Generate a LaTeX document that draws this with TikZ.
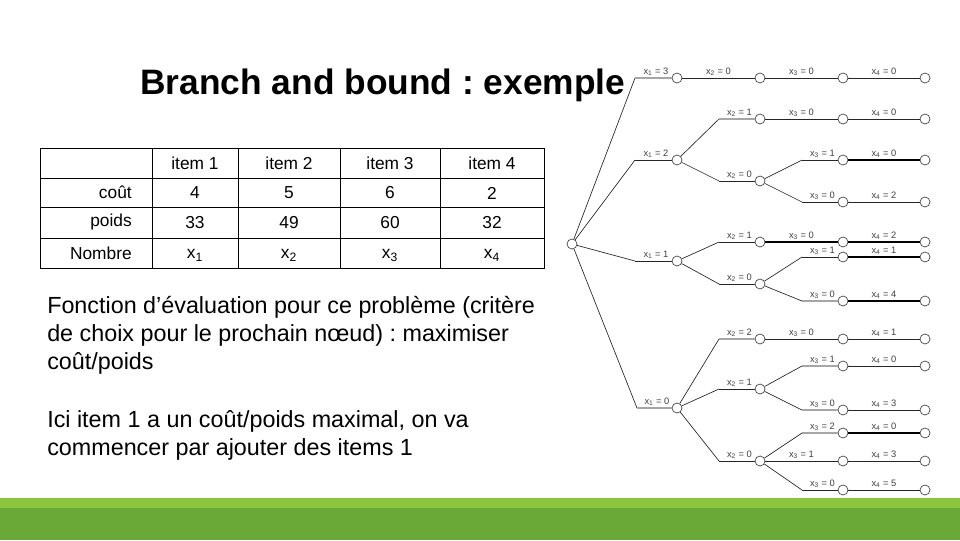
\documentclass[tikz,border=0pt]{standalone}
\usepackage{fontspec}
\setmainfont{Liberation Sans}
\frenchspacing
\usetikzlibrary{calc}
\newcommand\brE[7][]{%
  \node[tn] (#3) at (#5,#6) {};
  \coordinate (#3b) at (#4,#6);
  \draw[edge] (#2) -- (#3b);
  \draw[edge,#1] (#3b) -- (#3);
  \node[lbl] at ($(#3b)!0.5!(#3)$) {#7};}
\newcommand\stE[6][]{%
  \node[tn] (#3) at (#4,#5) {};
  \draw[edge,#1] (#2) -- (#3);
  \node[lbl] at ($(#2)!0.5!(#3)$) {#6};}
\begin{document}
\begin{tikzpicture}[x=0.75pt,y=-0.75pt,
  tn/.style={circle,draw=black!75,fill=white,inner sep=0pt,minimum size=7.5pt,line width=0.5pt},
  edge/.style={draw=black!85,line width=0.5pt},
  hv/.style={line width=1.3pt,draw=black},
  gr/.style={draw=black!35,line width=0.9pt},
  lbl/.style={font=\fontsize{7}{8}\selectfont,text=black!75,anchor=south,yshift=1.5pt,inner sep=0pt},
  tx/.style={font=\fontsize{13}{15}\selectfont,inner sep=0pt},
  para/.style={font=\fontsize{17.5}{21}\selectfont,anchor=north west,align=left,inner sep=0pt}]
\useasboundingbox (0,0) rectangle (960,540);
\fill[white] (0,0) rectangle (960,540);
% green bar
\fill[color={rgb,255:red,106;green,168;blue,56}] (0,508) rectangle (960,540);
\fill[color={rgb,255:red,140;green,198;blue,63}] (0,498) rectangle (960,508);
% title
\node[font=\bfseries\fontsize{26.5}{30}\selectfont,anchor=west,inner sep=0pt] (title) at (140,85) {Branch and bound : exemple};
% table
\draw[line width=0.6pt] (40,148) rectangle (544,268);
\foreach \y in {178,207,238} \draw[line width=0.6pt] (40,\y) -- (544,\y);
\foreach \x in {152,238,340,440} \draw[line width=0.6pt] (\x,148) -- (\x,268);
\node[tx] (h1) at (195,163) {item 1};
\node[tx] (h2) at (289,163) {item 2};
\node[tx] (h3) at (390,163) {item 3};
\node[tx] (h4) at (492,163) {item 4};
\node[tx,anchor=east] (r1) at (132,192) {coût};
\node[tx,anchor=east] (r2) at (132,222) {poids};
\node[tx,anchor=east] (r3) at (132,253) {Nombre};
\node[tx] (v11) at (195,193) {4};
\node[tx] (v12) at (289,193) {5};
\node[tx] (v13) at (390,193) {6};
\node[tx] (v14) at (492,193) {2};
\node[tx] (v21) at (195,223) {33};
\node[tx] (v22) at (289,223) {49};
\node[tx] (v23) at (390,223) {60};
\node[tx] (v24) at (492,223) {32};
\node[tx] (v31) at (195,255) {x\textsubscript{1}};
\node[tx] (v32) at (289,255) {x\textsubscript{2}};
\node[tx] (v33) at (390,255) {x\textsubscript{3}};
\node[tx] (v34) at (492,255) {x\textsubscript{4}};
% paragraphs
\node[para] (p1) at (47,296) {Fonction d’évaluation pour ce problème (critère\\de choix pour le prochain nœud) : maximiser\\coût/poids};
\node[para] (p2) at (47,410) {Ici item 1 a un coût/poids maximal, on va\\commencer par ajouter des items 1};
% tree
\node[tn] (r) at (572,244) {};
\brE[gr]{r}{a3}{635}{677}{78}{x\textsubscript{1} = 3}
\brE{r}{a2}{635}{677}{160}{x\textsubscript{1} = 2}
\brE{r}{a1}{635}{677}{261}{x\textsubscript{1} = 1}
\brE[gr]{r}{a0}{637}{677}{408}{x\textsubscript{1} = 0}
\stE{a3}{b30}{760}{78}{x\textsubscript{2} = 0}
\brE[gr]{a2}{b21}{719}{760}{119}{x\textsubscript{2} = 1}
\brE{a2}{b20}{719}{760}{181}{x\textsubscript{2} = 0}
\brE{a1}{b11}{719}{760}{242}{x\textsubscript{2} = 1}
\brE{a1}{b10}{719}{760}{284}{x\textsubscript{2} = 0}
\brE[gr]{a0}{b02}{719}{760}{339}{x\textsubscript{2} = 2}
\brE{a0}{b01}{719}{760}{389}{x\textsubscript{2} = 1}
\brE{a0}{b00}{719}{760}{461}{x\textsubscript{2} = 0}
\stE{b30}{c300}{843}{78}{x\textsubscript{3} = 0}
\stE{b21}{c210}{843}{119}{x\textsubscript{3} = 0}
\brE{b20}{c201}{802}{843}{160}{x\textsubscript{3} = 1}
\brE{b20}{c200}{802}{843}{202}{x\textsubscript{3} = 0}
\stE[hv]{b11}{c110}{843}{242}{x\textsubscript{3} = 0}
\brE{b10}{c101}{802}{843}{257}{x\textsubscript{3} = 1}
\brE[gr]{b10}{c100}{802}{843}{301}{x\textsubscript{3} = 0}
\stE{b02}{c020}{843}{339}{x\textsubscript{3} = 0}
\brE[gr]{b01}{c011}{802}{843}{366}{x\textsubscript{3} = 1}
\brE[gr]{b01}{c010}{802}{843}{410}{x\textsubscript{3} = 0}
\brE[gr]{b00}{c002}{802}{843}{433}{x\textsubscript{3} = 2}
\stE{b00}{c001}{843}{461}{x\textsubscript{3} = 1}
\brE{b00}{c000}{802}{843}{490}{x\textsubscript{3} = 0}
\stE{c300}{d300}{925}{78}{x\textsubscript{4} = 0}
\stE{c210}{d210}{925}{119}{x\textsubscript{4} = 0}
\stE[hv]{c201}{d201}{925}{160}{x\textsubscript{4} = 0}
\stE{c200}{d200}{925}{202}{x\textsubscript{4} = 2}
\stE[hv]{c110}{d110}{925}{242}{x\textsubscript{4} = 2}
\stE[hv]{c101}{d101}{925}{257}{x\textsubscript{4} = 1}
\stE[hv]{c100}{d100}{925}{301}{x\textsubscript{4} = 4}
\stE{c020}{d020}{925}{339}{x\textsubscript{4} = 1}
\stE{c011}{d011}{925}{366}{x\textsubscript{4} = 0}
\stE{c010}{d010}{925}{410}{x\textsubscript{4} = 3}
\stE[hv]{c002}{d002}{925}{433}{x\textsubscript{4} = 0}
\stE{c001}{d001}{925}{461}{x\textsubscript{4} = 3}
\stE{c000}{d000}{925}{490}{x\textsubscript{4} = 5}
\end{tikzpicture}
\end{document}
